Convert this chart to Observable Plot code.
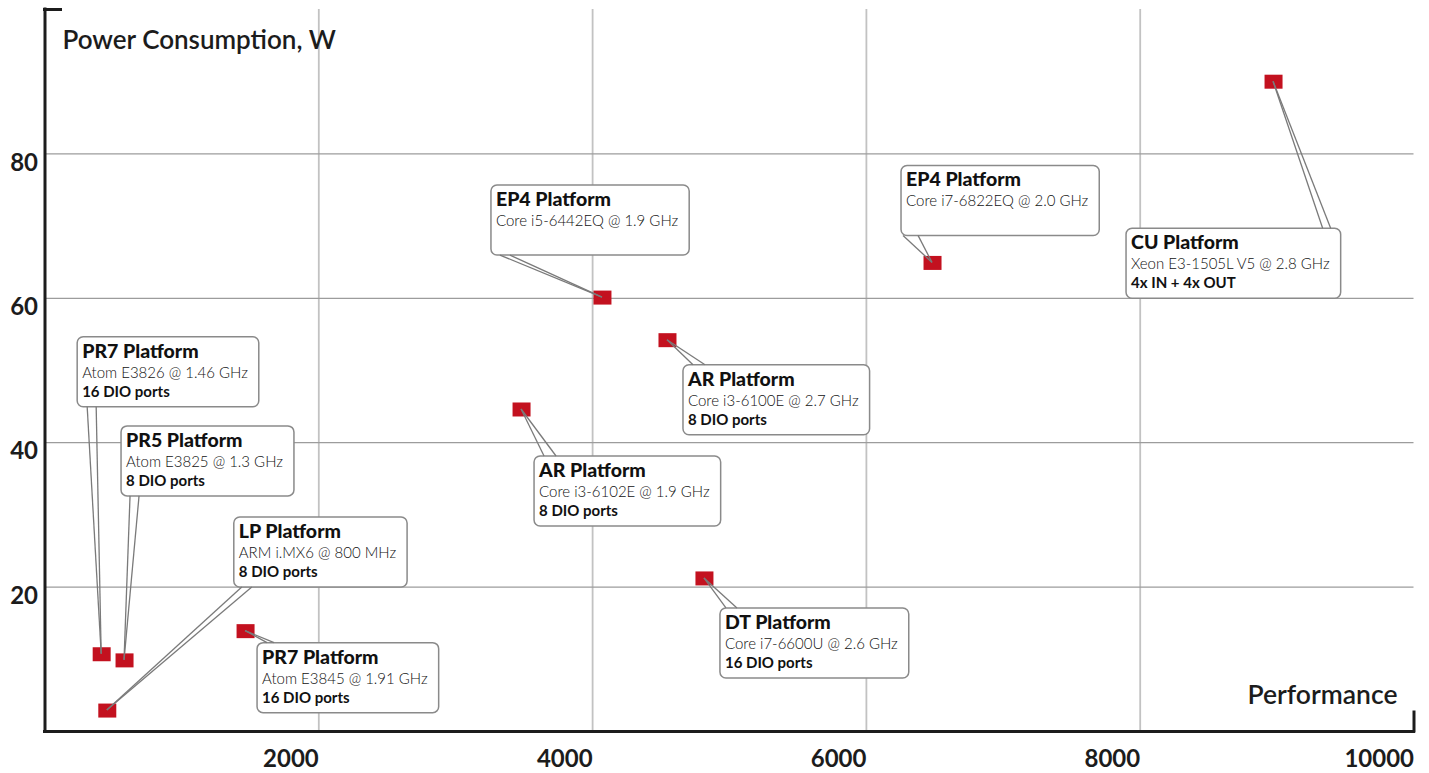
<!DOCTYPE html>
<html>
<head>
<meta charset="utf-8">
<script src="https://cdn.jsdelivr.net/npm/d3@7"></script>
<script src="https://cdn.jsdelivr.net/npm/@observablehq/plot@0.6"></script>
<style>
  html, body { margin: 0; padding: 0; background: #fff; }
  #chart svg { display: block; }
</style>
</head>
<body>
<div id="chart"></div>
<script>
// ---- data ----
const platforms = ["PR7 Platform", "PR5 Platform", "LP Platform", "PR7 Platform", "AR Platform", "EP4 Platform", "AR Platform", "DT Platform", "EP4 Platform", "CU Platform"];
const processors = ["Atom E3826 @ 1.46 GHz", "Atom E3825 @ 1.3 GHz", "ARM i.MX6 @ 800 MHz", "Atom E3845 @ 1.91 GHz", "Core i3-6102E @ 1.9 GHz", "Core i5-6442EQ @ 1.9 GHz", "Core i3-6100E @ 2.7 GHz", "Core i7-6600U @ 2.6 GHz", "Core i7-6822EQ @ 2.0 GHz", "Xeon E3-1505L V5 @ 2.8 GHz"];
const ioNotes = ["16 DIO ports", "8 DIO ports", "8 DIO ports", "16 DIO ports", "8 DIO ports", "", "8 DIO ports", "16 DIO ports", "", "4x IN + 4x OUT"];
const performance = [414, 581, 455, 1465, 3481, 4072, 4547, 4817, 6483, 8974];
const power = [10.7, 9.85, 2.9, 13.9, 44.6, 60.1, 54.2, 21.2, 64.9, 90.0];
const xTicks = [2000, 4000, 6000, 8000, 10000];
const yTicks = [20, 40, 60, 80];
const xTitle = "Performance";
const yTitle = "Power Consumption, W";

// ---- callout layout (pixel offsets of box from its point; pointer base on box edge) ----
const calloutLayout = [
  {dx: -24, dy: -317, edge: "bottom", b1: 10, b2: 19},
  {dx: -3, dy: -234, edge: "bottom", b1: 9, b2: 18},
  {dx: 127, dy: -193, edge: "bottom", b1: 8, b2: 18},
  {dx: 12, dy: 12, edge: "top", b1: 10, b2: 17},
  {dx: 13, dy: 47, edge: "top", b1: 10, b2: 22},
  {dx: -111, dy: -112, edge: "bottom", b1: 9, b2: 19},
  {dx: 16, dy: 25, edge: "top", b1: 10, b2: 22},
  {dx: 16, dy: 30, edge: "top", b1: 6, b2: 17},
  {dx: -31, dy: -97, edge: "bottom", b1: 2, b2: 17},
  {dx: -147, dy: 147, edge: "top", b1: -18, b2: -10}
];

const rows = platforms.map((p, i) => ({
  platform: p, processor: processors[i], io: ioNotes[i],
  performance: performance[i], power: power[i]
}));

const FONT = "Lato, 'Open Sans', sans-serif";
const INK = "#1c1c1c";

const rectSymbol = {
  draw(context) { context.rect(-9, -7, 18, 14); }
};

const plot = Plot.plot({
  width: 1429,
  height: 773,
  marginLeft: 44.5,
  marginRight: 15.5,
  marginTop: 9,
  marginBottom: 42,
  style: {fontFamily: FONT, color: INK, background: "#fff", overflow: "visible"},
  x: {domain: [0, 10000]},
  y: {domain: [0, 100]},
  marks: [
    Plot.gridX(xTicks.filter(v => v < 10000), {stroke: "#c2c2c2", strokeOpacity: 1, strokeWidth: 1.8}),
    Plot.gridY(yTicks, {stroke: "#9c9c9c", strokeOpacity: 1, strokeWidth: 1.2}),
    Plot.ruleX([0], {stroke: INK, strokeWidth: 3, strokeLinecap: "square"}),
    Plot.ruleY([0], {stroke: INK, strokeWidth: 3, strokeLinecap: "square"}),
    Plot.axisY([100], {anchor: "left", label: null, tickSize: -16, strokeWidth: 3, stroke: INK, strokeLinecap: "square", tickFormat: () => ""}),
    Plot.axisX([10000], {anchor: "bottom", label: null, tickSize: -19, strokeWidth: 3, stroke: INK, strokeLinecap: "square", tickFormat: () => ""}),
    Plot.axisY(yTicks, {anchor: "left", label: null, tickSize: 0, tickPadding: 7, dy: 9, fontSize: 24, fontWeight: 700, fill: INK, tickFormat: d => String(d)}),
    Plot.axisX(xTicks, {anchor: "bottom", label: null, tickSize: 0, tickPadding: 18, textAnchor: "end", fontSize: 24, fontWeight: 700, fill: INK, tickFormat: d => String(d)}),
    Plot.text([yTitle], {text: d => d, frameAnchor: "top-left", textAnchor: "start", lineAnchor: "bottom", dx: 17.5, dy: 39.5, fontSize: 26, fontWeight: 600, fill: INK}),
    Plot.text([xTitle], {text: d => d, frameAnchor: "bottom-right", textAnchor: "end", lineAnchor: "bottom", dx: -16.5, dy: -28, fontSize: 26.5, fontWeight: 600, fill: INK}),
    Plot.dot(rows, {x: "performance", y: "power", symbol: rectSymbol, fill: "#c3111f", stroke: "none"})
  ]
});

document.getElementById("chart").appendChild(plot);

// ---- callouts, positioned through the plot's own scales ----
const sx = plot.scale("x"), sy = plot.scale("y");
const g = d3.select(plot).append("g").attr("class", "callouts").attr("text-anchor", "start");
const BOX_H = 70;
rows.forEach((d, i) => {
  const L = calloutLayout[i];
  const px = sx.apply(d.performance), py = sy.apply(d.power);
  const bx = px + L.dx, by = py + L.dy;
  const cg = g.append("g");
  const rect = cg.append("rect")
    .attr("x", bx).attr("y", by).attr("height", BOX_H)
    .attr("rx", 6).attr("ry", 6)
    .attr("fill", "#fff").attr("stroke", "#8a8a8a").attr("stroke-width", 1.5);
  const texts = [];
  texts.push(cg.append("text").attr("x", bx + 5).attr("y", by + 21)
    .attr("font-family", FONT).attr("font-size", 19.5).attr("font-weight", 900).attr("fill", "#111").text(d.platform));
  texts.push(cg.append("text").attr("x", bx + 5).attr("y", by + 41)
    .attr("font-family", FONT).attr("font-size", 15).attr("font-weight", 300).attr("fill", "#111").text(d.processor));
  if (d.io) texts.push(cg.append("text").attr("x", bx + 5).attr("y", by + 60)
    .attr("font-family", FONT).attr("font-size", 15).attr("font-weight", 700).attr("fill", "#111").text(d.io));
  const w = Math.max(...texts.map(t => t.node().getComputedTextLength())) + 16;
  rect.attr("width", w);
  const ey = L.edge === "top" ? by : by + BOX_H;
  const x1 = L.b1 < 0 ? bx + w + L.b1 : bx + L.b1;
  const x2 = L.b2 < 0 ? bx + w + L.b2 : bx + L.b2;
  [x1, x2].forEach(x0 => {
    g.append("line").attr("x1", x0).attr("y1", ey).attr("x2", px).attr("y2", py)
      .attr("stroke", "#7a7a7a").attr("stroke-width", 1.3);
  });
});
</script>
</body>
</html>
